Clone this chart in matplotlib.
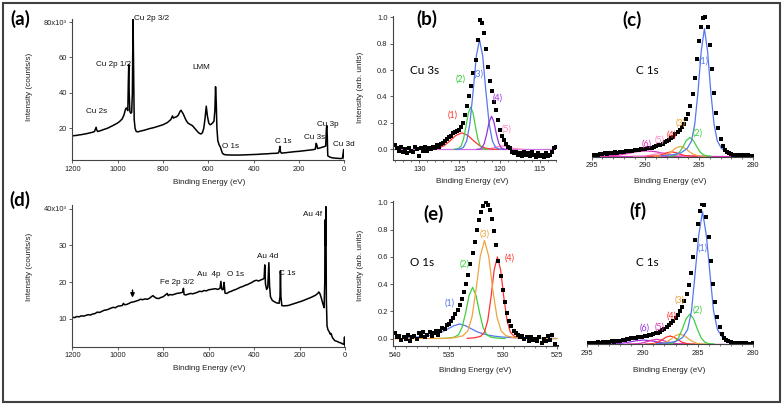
import matplotlib
matplotlib.use("Agg")
import matplotlib.pyplot as plt
from matplotlib.patches import Rectangle
from matplotlib.ticker import MultipleLocator, FixedLocator, FixedFormatter

W, H = 784, 408

# ---------------- (a) Cu survey ----------------
a_energy = [1200, 1190, 1180, 1170, 1160, 1150, 1140, 1130, 1120, 1110, 1102, 1098, 1095, 1092, 1088,
            1080, 1070, 1060, 1050, 1040, 1030, 1020, 1010, 1000, 990, 980, 972, 966, 962, 958, 955,
            953, 951, 949, 946, 942, 938, 935, 932, 930, 927, 923, 918, 910, 900, 880, 860, 840, 820,
            800, 780, 765, 758, 754, 748, 740, 732, 725, 720, 715, 712, 705, 698, 690, 680, 670, 660,
            648, 640, 632, 626, 620, 614, 609, 604, 598, 592, 586, 580, 575, 571, 568, 565, 562, 558,
            552, 547, 542, 537, 530, 520, 500, 480, 460, 440, 420, 400, 380, 360, 340, 320, 300, 290,
            286, 284, 282, 278, 260, 240, 220, 200, 180, 160, 140, 128, 124, 121, 118, 110, 100, 90,
            82, 79, 77, 75, 73, 65, 55, 45, 35, 25, 15, 8, 5, 3, 1, 0]
a_counts = [15.7, 15.9, 16.0, 16.3, 16.4, 16.7, 16.9, 17.2, 17.5, 17.8, 18.2, 19.6, 20.6, 19.0, 18.2,
            18.5, 18.9, 19.4, 19.8, 20.3, 21.0, 21.6, 22.3, 23.0, 24.0, 25.3, 27.5, 30.5, 31.5, 30.8, 30.0,
            45.0, 56.0, 40.0, 29.5, 28.5, 29.0, 40.0, 81.5, 60.0, 25.0, 20.0, 18.2, 18.0, 18.4, 19.0, 19.8,
            20.4, 21.2, 22.0, 23.3, 25.0, 27.0, 25.8, 26.2, 26.5, 27.5, 29.5, 30.2, 29.0, 28.5, 26.5, 24.5,
            23.0, 22.2, 21.5, 20.0, 18.2, 17.2, 16.8, 17.5, 20.0, 26.0, 32.5, 27.0, 23.0, 22.0, 22.4, 23.2,
            24.0, 30.0, 43.5, 35.0, 20.0, 13.0, 10.5, 9.5, 7.5, 5.8, 5.2, 5.0, 4.9, 4.9, 4.9, 5.0, 5.1,
            5.2, 5.3, 5.5, 5.6, 5.8, 5.9, 6.1, 8.0, 9.8, 7.0, 6.0, 6.2, 6.5, 6.8, 7.0, 7.3, 7.6, 7.9, 8.2,
            11.5, 10.5, 8.6, 8.8, 9.2, 9.6, 10.0, 20.0, 21.5, 15.0, 4.5, 3.8, 3.4, 3.2, 3.1, 3.0, 2.9,
            3.2, 6.0, 8.0, 4.0, 2.8]
a_labels = ["Cu 2s", "Cu 2p 1/2", "Cu 2p 3/2", "LMM", "O 1s", "C 1s", "Cu 3s", "Cu 3p", "Cu 3d"]
a_label_x = [1095, 1016, 926, 629, 541, 269, 129, 74, 2]
a_label_y = [29.4, 56.2, 82.2, 54.2, 9.6, 12.8, 14.7, 21.9, 10.6]
a_label_ha = ["center", "center", "left", "center", "left", "center", "center", "center", "center"]

# ---------------- (d) Au/Fe survey ----------------
d_energy = [1200, 1190, 1180, 1170, 1160, 1150, 1140, 1130, 1120, 1110, 1100, 1090, 1080, 1070, 1060,
            1050, 1040, 1030, 1020, 1010, 1000, 990, 980, 975, 970, 960, 950, 940, 930, 920, 910, 900,
            890, 880, 870, 860, 850, 845, 840, 830, 820, 810, 800, 790, 782, 778, 770, 760, 750, 740,
            730, 720, 714, 711, 708, 700, 690, 680, 670, 660, 650, 640, 630, 620, 610, 600, 590, 580,
            570, 560, 550, 546, 543, 540, 536, 532, 528, 520, 510, 500, 490, 480, 470, 460, 450, 440,
            430, 420, 410, 400, 390, 380, 370, 362, 356, 353, 350, 345, 340, 335, 332, 328, 320, 310,
            300, 290, 286, 284, 282, 278, 270, 250, 230, 210, 190, 170, 150, 130, 120, 115, 110, 104,
            98, 92, 89, 88, 86, 84, 82, 79, 75, 70, 65, 62, 58, 55, 45, 35, 25, 15, 8, 4, 2, 1, 0]
d_counts = [10.4, 10.3, 10.6, 10.5, 10.8, 10.7, 10.9, 11.1, 11.0, 11.3, 11.4, 11.8, 11.7, 12.0, 12.3,
            12.4, 12.6, 12.9, 13.1, 13.0, 13.4, 13.5, 13.6, 14.2, 13.8, 13.9, 14.2, 14.5, 14.6, 14.8,
            15.0, 15.3, 15.2, 15.4, 15.3, 15.6, 16.1, 16.3, 16.0, 15.6, 15.5, 15.8, 16.0, 16.5, 16.9,
            16.3, 16.6, 16.5, 16.7, 16.9, 17.0, 17.1, 17.3, 18.3, 16.6, 16.5, 16.7, 16.9, 16.8, 17.0,
            17.2, 17.5, 17.4, 17.7, 17.6, 17.9, 18.0, 18.1, 18.2, 18.0, 18.3, 20.2, 18.2, 17.9, 18.0,
            19.9, 17.0, 16.9, 17.3, 17.5, 17.8, 18.0, 18.3, 18.6, 18.8, 19.1, 19.3, 19.6, 19.9, 20.3,
            20.5, 20.3, 20.6, 20.8, 21.0, 24.7, 19.5, 18.0, 18.5, 25.3, 19.0, 16.0, 15.0, 14.6, 14.3,
            14.2, 16.0, 23.1, 16.0, 13.6, 13.5, 13.6, 14.0, 14.4, 14.8, 15.3, 15.8, 16.4, 16.9, 17.3,
            16.8, 15.6, 14.2, 13.0, 20.0, 37.0, 30.0, 40.6, 15.0, 8.0, 7.0, 6.5, 5.8, 6.0, 5.3, 4.8,
            4.0, 3.8, 3.5, 3.3, 3.0, 3.2, 5.0, 3.0, 2.5]
d_labels = ["Au 4f", "Au 4d", "C 1s", "O 1s", "Au  4p", "Fe 2p 3/2"]
d_label_x = [100, 342, 254, 482, 600, 740]
d_label_y = [38.6, 26.9, 22.4, 22.1, 22.1, 19.8]
d_label_ha = ["right", "center", "center", "center", "center", "center"]
d_arrow_x = 935
d_arrow_y = [18.6, 15.0]

# ---------------- (b) Cu 3s ----------------
b_energy = [133.0, 132.75, 132.5, 132.25, 132.0, 131.75, 131.5, 131.25, 131.0, 130.75, 130.5, 130.25,
            130.0, 129.75, 129.5, 129.25, 129.0, 128.75, 128.5, 128.25, 128.0, 127.75, 127.5, 127.25,
            127.0, 126.75, 126.5, 126.25, 126.0, 125.75, 125.5, 125.25, 125.0, 124.75, 124.5, 124.25,
            124.0, 123.75, 123.5, 123.25, 123.0, 122.75, 122.5, 122.25, 122.0, 121.75, 121.5, 121.25,
            121.0, 120.75, 120.5, 120.25, 120.0, 119.75, 119.5, 119.25, 119.0, 118.75, 118.5, 118.25,
            118.0, 117.75, 117.5, 117.25, 117.0, 116.75, 116.5, 116.25, 116.0, 115.75, 115.5, 115.25,
            115.0, 114.75, 114.5, 114.25, 114.0, 113.75, 113.5, 113.25, 113.0]
b_intensity = [0.03, 0.01, -0.01, 0.02, -0.02, 0.00, -0.03, 0.01, -0.01, -0.02, 0.02, 0.00,
               -0.05, 0.01, -0.01, 0.02, -0.01, 0.01, 0.00, 0.02, 0.01, 0.03, 0.02, 0.04,
               0.05, 0.06, 0.08, 0.09, 0.10, 0.12, 0.13, 0.14, 0.15, 0.17, 0.20, 0.26,
               0.33, 0.40, 0.48, 0.58, 0.68, 0.83, 0.98, 0.96, 0.88, 0.76, 0.62, 0.52,
               0.44, 0.36, 0.30, 0.22, 0.15, 0.10, 0.07, 0.04, 0.02, 0.01, -0.02, -0.03,
               -0.02, -0.04, -0.03, -0.05, -0.02, -0.04, -0.03, -0.05, -0.02, -0.04, -0.06, -0.03,
               -0.05, -0.04, -0.06, -0.03, -0.05, -0.04, -0.02, 0.01, 0.02]
b1_energy = [129.5, 128.45, 127.7, 126.95, 126.2, 125.45, 124.7, 123.95, 123.2, 122.45, 121.7, 120.95, 120.0]
b1_value = [0, 0.0016, 0.0078, 0.026, 0.0625, 0.105, 0.125, 0.105, 0.0625, 0.026, 0.0078, 0.0016, 0]
b2_energy = [125.7, 125.4, 125.1, 124.8, 124.5, 124.2, 123.9, 123.6, 123.3, 123.0, 122.7, 122.4, 122.1, 121.8, 121.5]
b2_value = [0, 0.001, 0.006, 0.025, 0.076, 0.169, 0.273, 0.32, 0.273, 0.169, 0.076, 0.025, 0.006, 0.001, 0]
b3_energy = [125.5, 124.9, 124.5, 124.1, 123.7, 123.3, 122.9, 122.5, 122.1, 121.7, 121.3, 120.9, 120.5, 120.1, 119.5]
b3_value = [0, 0.0025, 0.015, 0.063, 0.195, 0.436, 0.706, 0.83, 0.706, 0.436, 0.195, 0.063, 0.015, 0.0025, 0]
b4_energy = [122.8, 122.5, 122.2, 121.9, 121.6, 121.3, 121.0, 120.7, 120.4, 120.1, 119.8, 119.5, 119.2]
b4_value = [0, 0.002, 0.012, 0.046, 0.117, 0.207, 0.25, 0.207, 0.117, 0.046, 0.012, 0.002, 0]
b5_energy = [122.0, 121.0, 120.4, 119.6, 118.8, 118.2, 117.2]
b5_value = [0, 0.006, 0.018, 0.025, 0.018, 0.006, 0]
b_base_energy = [133.25, 113.0]
b_base_value = [0, 0]
b_tags = ["(1)", "(2)", "(3)", "(4)", "(5)"]
b_tag_x = [125.8, 124.9, 122.6, 120.3, 119.1]
b_tag_y = [0.26, 0.53, 0.57, 0.39, 0.15]

# ---------------- (c) C 1s ----------------
c_energy = [295.0, 294.8, 294.6, 294.4, 294.2, 294.0, 293.8, 293.6, 293.4, 293.2, 293.0, 292.8, 292.6,
            292.4, 292.2, 292.0, 291.8, 291.6, 291.4, 291.2, 291.0, 290.8, 290.6, 290.4, 290.2, 290.0,
            289.8, 289.6, 289.4, 289.2, 289.0, 288.8, 288.6, 288.4, 288.2, 288.0, 287.8, 287.6, 287.4,
            287.2, 287.0, 286.8, 286.6, 286.4, 286.2, 286.0, 285.8, 285.6, 285.4, 285.2, 285.0, 284.8,
            284.6, 284.4, 284.2, 284.0, 283.8, 283.6, 283.4, 283.2, 283.0, 282.8, 282.6, 282.4, 282.2,
            282.0, 281.8, 281.6, 281.4, 281.2, 281.0, 280.8, 280.6, 280.4, 280.2, 280.0]
c_intensity = [0.008, 0.004, 0.012, 0.010, 0.016, 0.013, 0.020, 0.017, 0.022, 0.020, 0.026, 0.028, 0.025,
               0.030, 0.033, 0.031, 0.036, 0.034, 0.038, 0.040, 0.042, 0.041, 0.046, 0.048, 0.050, 0.053,
               0.056, 0.058, 0.062, 0.066, 0.071, 0.077, 0.083, 0.090, 0.098, 0.107, 0.117, 0.128, 0.140,
               0.155, 0.172, 0.190, 0.210, 0.232, 0.262, 0.300, 0.360, 0.445, 0.560, 0.690, 0.820, 0.925,
               0.985, 0.990, 0.920, 0.790, 0.620, 0.450, 0.310, 0.200, 0.120, 0.072, 0.045, 0.030, 0.020,
               0.015, 0.012, 0.008, 0.010, 0.006, 0.004, 0.007, 0.003, 0.005, 0.002, 0.004]
c1_energy = [288.5, 287.5, 286.7, 286.1, 285.7, 285.4, 285.1, 284.8, 284.5, 284.2, 283.9, 283.6, 283.3,
             282.9, 282.3, 281.5, 280.5]
c1_value = [0.004, 0.009, 0.023, 0.055, 0.109, 0.228, 0.455, 0.746, 0.91, 0.746, 0.455, 0.228, 0.109,
            0.055, 0.023, 0.009, 0.004]
c2_energy = [287.8, 287.48, 287.15, 286.83, 286.5, 286.18, 285.85, 285.53, 285.2, 284.88, 284.55, 284.23, 283.9]
c2_value = [0, 0.0017, 0.0083, 0.028, 0.0665, 0.112, 0.133, 0.112, 0.0665, 0.028, 0.0083, 0.0017, 0]
c3_energy = [289.15, 288.75, 288.35, 287.95, 287.55, 287.15, 286.75, 286.35, 285.95, 285.55, 285.15, 284.75, 284.35]
c3_value = [0, 0.0009, 0.0044, 0.0147, 0.035, 0.0589, 0.07, 0.0589, 0.035, 0.0147, 0.0044, 0.0009, 0]
c4_energy = [289.8, 289.43, 289.05, 288.68, 288.3, 287.93, 287.55, 287.18, 286.8, 286.43, 286.05, 285.68, 285.3]
c4_value = [0, 0.0004, 0.0019, 0.0065, 0.0155, 0.026, 0.031, 0.026, 0.0155, 0.0065, 0.0019, 0.0004, 0]
c5_energy = [291.1, 290.65, 290.2, 289.75, 289.3, 288.85, 288.4, 287.95, 287.5, 287.05, 286.6, 286.15, 285.7]
c5_value = [0, 0.0003, 0.0014, 0.0046, 0.011, 0.0185, 0.022, 0.0185, 0.011, 0.0046, 0.0014, 0.0003, 0]
c6_energy = [295.15, 294.28, 293.4, 292.53, 291.65, 290.78, 289.9, 289.03, 288.15, 287.28, 286.4, 285.53, 284.65]
c6_value = [0, 0.0005, 0.0024, 0.008, 0.019, 0.032, 0.038, 0.032, 0.019, 0.008, 0.0024, 0.0005, 0]
c_base_energy = [295.0, 280.0]
c_base_value = [0, 0]
c_tags = ["(1)", "(2)", "(3)", "(4)", "(5)", "(6)"]
c_tag_x = [284.6, 285.16, 286.68, 287.55, 288.64, 289.88]
c_tag_y = [0.68, 0.167, 0.238, 0.15, 0.114, 0.09]

# ---------------- (e) O 1s ----------------
e_energy = [540.0, 539.8, 539.6, 539.4, 539.2, 539.0, 538.8, 538.6, 538.4, 538.2, 538.0, 537.8, 537.6,
            537.4, 537.2, 537.0, 536.8, 536.6, 536.4, 536.2, 536.0, 535.8, 535.6, 535.4, 535.2, 535.0,
            534.8, 534.6, 534.4, 534.2, 534.0, 533.8, 533.6, 533.4, 533.2, 533.0, 532.8, 532.6, 532.4,
            532.2, 532.0, 531.8, 531.6, 531.4, 531.2, 531.0, 530.8, 530.6, 530.4, 530.2, 530.0, 529.8,
            529.6, 529.4, 529.2, 529.0, 528.8, 528.6, 528.4, 528.2, 528.0, 527.8, 527.6, 527.4, 527.2,
            527.0, 526.8, 526.6, 526.4, 526.2, 526.0, 525.8, 525.6, 525.4, 525.2, 525.0]
e_intensity = [0.04, 0.01, 0.02, -0.01, 0.01, 0.00, 0.03, -0.02, 0.01, 0.02, 0.00, 0.04, 0.02,
               0.05, 0.01, 0.03, 0.05, 0.02, 0.04, 0.06, 0.03, 0.06, 0.08, 0.07, 0.10, 0.11,
               0.13, 0.15, 0.18, 0.21, 0.25, 0.29, 0.34, 0.40, 0.47, 0.55, 0.63, 0.71, 0.80,
               0.87, 0.93, 0.97, 1.00, 0.98, 0.94, 0.88, 0.79, 0.69, 0.57, 0.46, 0.36, 0.27,
               0.19, 0.13, 0.09, 0.06, 0.04, 0.03, 0.01, 0.02, 0.00, 0.01, -0.02, 0.01, -0.01,
               0.00, -0.02, 0.01, -0.03, 0.00, -0.02, 0.02, -0.01, 0.03, -0.04, -0.06]
e1_energy = [539.0, 538.0, 537.3, 536.75, 536.2, 535.65, 535.1, 534.55, 534.0, 533.45, 532.9, 532.35,
             531.8, 531.25, 530.7, 530.0, 529.0, 527.0, 525.0]
e1_value = [0.008, 0.012, 0.018, 0.025, 0.035, 0.05, 0.072, 0.095, 0.108, 0.095, 0.072, 0.05,
            0.035, 0.025, 0.018, 0.012, 0.008, 0.004, 0.002]
e2_energy = [535.8, 535.1, 534.5, 534.1, 533.78, 533.45, 533.13, 532.8, 532.48, 532.15, 531.83, 531.5,
             531.1, 530.5, 529.8]
e2_value = [0.0015, 0.0045, 0.0113, 0.0302, 0.0829, 0.1885, 0.3167, 0.377, 0.3167, 0.1885, 0.0829,
            0.0302, 0.0113, 0.0045, 0.0015]
e3_energy = [540.0, 535.3, 534.4, 533.7, 533.25, 532.86, 532.48, 532.09, 531.7, 531.31, 530.93, 530.54,
             530.15, 529.7, 529.0, 528.1, 525.0]
e3_value = [0, 0.0029, 0.0086, 0.0216, 0.0576, 0.1584, 0.36, 0.6048, 0.72, 0.6048, 0.36, 0.1584,
            0.0576, 0.0216, 0.0086, 0.0029, 0]
e4_energy = [533.3, 532.6, 532.05, 531.7, 531.4, 531.1, 530.8, 530.5, 530.2, 529.9, 529.6, 529.3,
             528.95, 528.4, 527.7]
e4_value = [0.0024, 0.0072, 0.018, 0.048, 0.132, 0.3, 0.504, 0.6, 0.504, 0.3, 0.132, 0.048, 0.018,
            0.0072, 0.0024]
e_tags = ["(1)", "(2)", "(3)", "(4)"]
e_tag_x = [534.9, 533.5, 531.7, 529.35]
e_tag_y = [0.26, 0.55, 0.77, 0.59]

# ---------------- (f) C 1s ----------------
f_energy = c_energy
f_intensity = [0.005, 0.010, 0.002, 0.008, 0.004, 0.011, 0.006, 0.012, 0.009, 0.015, 0.013, 0.020, 0.016,
               0.022, 0.025, 0.021, 0.028, 0.031, 0.033, 0.036, 0.040, 0.042, 0.044, 0.047, 0.050, 0.053,
               0.056, 0.058, 0.062, 0.066, 0.070, 0.075, 0.080, 0.088, 0.097, 0.108, 0.120, 0.133, 0.148,
               0.163, 0.182, 0.205, 0.232, 0.265, 0.305, 0.355, 0.420, 0.505, 0.615, 0.740, 0.855, 0.945,
               0.995, 0.990, 0.900, 0.760, 0.590, 0.430, 0.300, 0.195, 0.120, 0.072, 0.044, 0.028, 0.018,
               0.012, 0.009, 0.006, 0.008, 0.004, 0.006, 0.002, 0.005, 0.003, 0.001, 0.004]
f1_energy = [288.75, 287.75, 286.95, 286.35, 285.9, 285.55, 285.26, 284.9, 284.55, 284.2, 283.84, 283.55,
             283.2, 282.75, 282.15, 281.35, 280.35]
f1_value = [0.0028, 0.0075, 0.0188, 0.047, 0.1034, 0.235, 0.47, 0.7708, 0.94, 0.7708, 0.47, 0.235,
            0.1034, 0.047, 0.0188, 0.0075, 0.0028]
f2_energy = [287.9, 287.4, 287.06, 286.72, 286.38, 286.04, 285.7, 285.36, 285.02, 284.68, 284.34, 284.0, 283.5]
f2_value = [0.0004, 0.0028, 0.0133, 0.0447, 0.1065, 0.1789, 0.213, 0.1789, 0.1065, 0.0447, 0.0133, 0.0028, 0.0004]
f3_energy = [289.0, 288.6, 288.2, 287.8, 287.4, 287.0, 286.6, 286.2, 285.8, 285.4, 285.0, 284.6, 284.2]
f3_value = [0, 0.0009, 0.0044, 0.0149, 0.0355, 0.0596, 0.071, 0.0596, 0.0355, 0.0149, 0.0044, 0.0009, 0]
f4_energy = [289.75, 289.38, 289.0, 288.63, 288.25, 287.88, 287.5, 287.13, 286.75, 286.38, 286.0, 285.63, 285.25]
f4_value = [0, 0.0007, 0.0036, 0.012, 0.0285, 0.0479, 0.057, 0.0479, 0.0285, 0.012, 0.0036, 0.0007, 0]
f5_energy = [291.4, 290.95, 290.5, 290.05, 289.6, 289.15, 288.7, 288.25, 287.8, 287.35, 286.9, 286.45, 286.0]
f5_value = [0, 0.0004, 0.0021, 0.0069, 0.0165, 0.0277, 0.033, 0.0277, 0.0165, 0.0069, 0.0021, 0.0004, 0]
f6_energy = [293.8, 293.15, 292.5, 291.85, 291.2, 290.55, 289.9, 289.25, 288.6, 287.95, 287.3, 286.65, 286.0]
f6_value = [0, 0.0004, 0.0018, 0.0059, 0.014, 0.0235, 0.028, 0.0235, 0.014, 0.0059, 0.0018, 0.0004, 0]
f_base_energy = [295.0, 280.0]
f_base_value = [0, 0]
f_tags = ["(1)", "(2)", "(3)", "(4)", "(5)", "(6)"]
f_tag_x = [284.54, 285.02, 286.65, 287.35, 288.47, 289.77]
f_tag_y = [0.685, 0.24, 0.31, 0.20, 0.123, 0.111]

BLUE = "#5577ee"
GREEN = "#3fcf3f"
RED = "#ff3333"
PURPLE = "#9933dd"
PINK = "#ff88c8"
ORANGE = "#eea540"
MAGENTA = "#dd33bb"

TICK_FONT = "Liberation Sans"
CAL = ["Lato", "DejaVu Sans"]

fig = plt.figure(figsize=(W / 100, H / 100), dpi=100)


def box(x0, x1, ytop, ybot):
    return [x0 / W, 1 - ybot / H, (x1 - x0) / W, (ybot - ytop) / H]


def ftext(x, y, s, **kw):
    fig.text(x / W, 1 - y / H, s, **kw)


def style(ax, left=True):
    for s in ["top", "right"]:
        ax.spines[s].set_visible(False)
    ax.spines["bottom"].set_linewidth(0.8)
    ax.spines["bottom"].set_color("#444444")
    if left:
        ax.spines["left"].set_linewidth(0.8)
        ax.spines["left"].set_color("#444444")
    else:
        ax.spines["left"].set_visible(False)
        ax.set_yticks([])
    ax.tick_params(direction="out", length=2.5, width=0.6, color="#444444",
                   labelsize=5.4, pad=1.5, labelcolor="#222222")
    ax.tick_params(which="minor", direction="out", length=1.4, width=0.5, color="#444444")
    for lab in ax.get_xticklabels() + ax.get_yticklabels():
        lab.set_fontfamily(TICK_FONT)
    ax.patch.set_alpha(0)


# (a)
ax_a = fig.add_axes(box(72.3, 344.3, 18.9, 160))
ax_a.plot(a_energy, a_counts, color="black", lw=1.1)
ax_a.set_xlim(1200, 0)
ax_a.set_ylim(2.1, 81.8)
ax_a.yaxis.set_major_locator(FixedLocator([20, 40, 60, 80]))
ax_a.yaxis.set_major_formatter(FixedFormatter(["20", "40", "60", "80x10³"]))
ax_a.xaxis.set_major_locator(MultipleLocator(200))
style(ax_a)
for t, x, y, ha in zip(a_labels, a_label_x, a_label_y, a_label_ha):
    ax_a.text(x, y, t, fontsize=5.9, ha=ha, va="center", family=TICK_FONT, color="#111111")

# (d)
ax_d = fig.add_axes(box(72.3, 345, 204.5, 346.7))
ax_d.plot(d_energy, d_counts, color="black", lw=1.1)
ax_d.set_xlim(1200, 0)
ax_d.set_ylim(2.35, 41.2)
ax_d.yaxis.set_major_locator(FixedLocator([10, 20, 30, 40]))
ax_d.yaxis.set_major_formatter(FixedFormatter(["10", "20", "30", "40x10³"]))
ax_d.xaxis.set_major_locator(MultipleLocator(200))
style(ax_d)
for t, x, y, ha in zip(d_labels, d_label_x, d_label_y, d_label_ha):
    ax_d.text(x, y, t, fontsize=5.9, ha=ha, va="center", family=TICK_FONT, color="#111111")
ax_d.annotate("", xy=(d_arrow_x, d_arrow_y[1]), xytext=(d_arrow_x, d_arrow_y[0]),
              arrowprops=dict(arrowstyle="-|>", color="black", lw=1.0, mutation_scale=6))


def components(ax, comps, energy, intensity, tags, tag_x, tag_y, tag_colors):
    for (ex, vals, col) in comps:
        ax.plot(ex, vals, color=col, lw=0.9)
    ax.plot(energy, intensity, "s", color="black", ms=2.3, mew=0)
    for t, x, y, c in zip(tags, tag_x, tag_y, tag_colors):
        ax.text(x, y, t, fontsize=6.5, color=c, ha="center", va="center", family=CAL)


# (b)
ax_b = fig.add_axes(box(393.3, 555.7, 15.7, 160))
ax_b.set_xlim(133.25, 113)
ax_b.set_ylim(-0.081, 1.012)
components(ax_b, [(b_base_energy, b_base_value, "#d070e0"), (b5_energy, b5_value, PINK),
                  (b1_energy, b1_value, RED), (b2_energy, b2_value, GREEN),
                  (b3_energy, b3_value, BLUE), (b4_energy, b4_value, PURPLE)],
           b_energy, b_intensity, b_tags, b_tag_x, b_tag_y, [RED, GREEN, BLUE, PURPLE, PINK])
ax_b.xaxis.set_major_locator(MultipleLocator(5))
ax_b.xaxis.set_minor_locator(MultipleLocator(1))
ax_b.yaxis.set_major_locator(MultipleLocator(0.2))
style(ax_b)

# (c)
ax_c = fig.add_axes(box(591.7, 752.7, 15.3, 156.76))
ax_c.set_xlim(295, 280)
ax_c.set_ylim(-0.004, 1.005)
components(ax_c, [(c_base_energy, c_base_value, MAGENTA), (c6_energy, c6_value, MAGENTA),
                  (c5_energy, c5_value, PINK), (c4_energy, c4_value, RED),
                  (c3_energy, c3_value, ORANGE), (c2_energy, c2_value, GREEN),
                  (c1_energy, c1_value, BLUE)],
           c_energy, c_intensity, c_tags, c_tag_x, c_tag_y,
           [BLUE, GREEN, ORANGE, RED, PINK, MAGENTA])
ax_c.xaxis.set_major_locator(MultipleLocator(5))
ax_c.xaxis.set_minor_locator(MultipleLocator(1))
style(ax_c, left=False)

# (e)
ax_e = fig.add_axes(box(393.4, 558.3, 200.9, 346.1))
ax_e.set_xlim(540.15, 524.85)
ax_e.set_ylim(-0.054, 1.01)
components(ax_e, [(e1_energy, e1_value, BLUE), (e2_energy, e2_value, GREEN),
                  (e4_energy, e4_value, RED), (e3_energy, e3_value, ORANGE)],
           e_energy, e_intensity, e_tags, e_tag_x, e_tag_y, [BLUE, GREEN, ORANGE, RED])
ax_e.xaxis.set_major_locator(MultipleLocator(5))
ax_e.xaxis.set_minor_locator(MultipleLocator(1))
ax_e.yaxis.set_major_locator(MultipleLocator(0.2))
style(ax_e)

# (f)
ax_f = fig.add_axes(box(587.3, 752.7, 202.6, 344.3))
ax_f.set_xlim(295, 280)
ax_f.set_ylim(-0.002, 1.005)
components(ax_f, [(f_base_energy, f_base_value, PURPLE), (f6_energy, f6_value, PURPLE),
                  (f5_energy, f5_value, MAGENTA), (f4_energy, f4_value, RED),
                  (f3_energy, f3_value, ORANGE), (f2_energy, f2_value, GREEN),
                  (f1_energy, f1_value, BLUE)],
           f_energy, f_intensity, f_tags, f_tag_x, f_tag_y,
           [BLUE, GREEN, ORANGE, RED, MAGENTA, PURPLE])
ax_f.xaxis.set_major_locator(MultipleLocator(5))
ax_f.xaxis.set_minor_locator(MultipleLocator(1))
style(ax_f, left=False)

# axis titles
lab = dict(fontsize=5.9, family=TICK_FONT, color="#222222", ha="center", va="center")
ftext(209, 182.5, "Binding Energy (eV)", **lab)
ftext(209, 369, "Binding Energy (eV)", **lab)
ftext(472, 181.7, "Binding Energy (eV)", **lab)
ftext(670, 181.7, "Binding Energy (eV)", **lab)
ftext(475, 370, "Binding Energy (eV)", **lab)
ftext(669, 370, "Binding Energy (eV)", **lab)
ftext(29.3, 87, "Intensity (counts/s)", rotation=90, **lab)
ftext(29.3, 267, "Intensity (counts/s)", rotation=90, **lab)
ftext(361, 87, "Intensity (arb. units)", rotation=90, **lab)
ftext(361, 265, "Intensity (arb. units)", rotation=90, **lab)

# panel letters and element names
pan = dict(fontsize=13.5, fontweight="bold", family=CAL, color="black", ha="center", va="center")
ftext(20, 18.5, "(a)", **pan)
ftext(20, 200, "(d)", **pan)
ftext(427, 19, "(b)", **pan)
ftext(632, 20, "(c)", **pan)
ftext(434, 214, "(e)", **pan)
ftext(638, 211, "(f)", **pan)
nm = dict(fontsize=8.5, family=CAL, color="black", ha="center", va="center")
ftext(425, 71, "Cu 3s", **nm)
ftext(647, 71, "C 1s", **nm)
ftext(422, 262, "O 1s", **nm)
ftext(647, 262, "C 1s", **nm)

fig.patches.append(Rectangle((3 / W, 1 - 402 / H), 777 / W, 399 / H, transform=fig.transFigure,
                             fill=False, edgecolor="#404040", lw=1.5))

fig.savefig("out.png", dpi=100)
